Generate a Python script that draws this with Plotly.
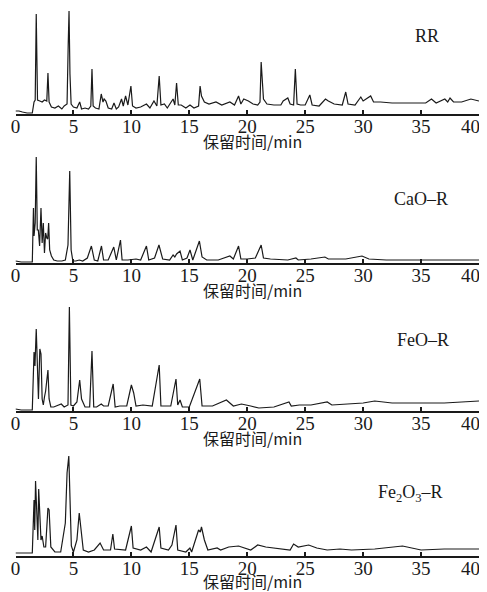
import plotly.graph_objects as go

# ---------------- data (retention time in min, relative signal) ----------------
rr_time = [0, 0.3, 0.6, 1.0, 1.45, 1.6, 1.7, 1.75, 1.79, 1.84, 1.9, 2.1, 2.3, 2.5, 2.7, 2.8, 2.9,
           3.1, 3.4, 3.7, 4.0, 4.2, 4.45, 4.55, 4.62, 4.7, 4.8, 5.0, 5.3, 5.54, 5.7, 6.0, 6.3, 6.5,
           6.6, 6.7, 6.9, 7.2, 7.4, 7.55, 7.65, 7.8, 8.0, 8.3, 8.5, 8.7, 8.9, 9.15, 9.3, 9.5, 9.7,
           9.96, 10.1, 10.4, 10.8, 11.3, 11.6, 11.95, 12.2, 12.4, 12.55, 12.85, 13.1, 13.6, 13.75,
           13.9, 14.05, 14.3, 14.7, 15.06, 15.4, 15.8, 15.93, 16.05, 16.3, 16.7, 17.3, 17.8, 18.5,
           18.9, 19.25, 19.45, 19.7, 20.1, 20.5, 20.9, 21.1, 21.2, 21.3, 21.4, 21.7, 22.3, 22.9,
           23.1, 23.5, 23.7, 24.0, 24.15, 24.3, 24.6, 25.0, 25.4, 25.6, 26.2, 26.75, 27.0, 27.5,
           28.2, 28.5, 28.7, 29.3, 29.8, 30.0, 30.3, 30.65, 30.9, 31.5, 32.5, 33.5, 34.5, 35.4,
           35.9, 36.3, 37.05, 37.3, 37.5, 37.8, 38.5, 39.3, 40]
rr_signal = [3, 3, 2, 1, 1, 12, 14, 67, 100, 60, 14, 13, 12, 14, 13, 41, 12,
             7, 6, 8, 5, 8, 10, 70, 103, 40, 10, 7, 6, 12, 5, 6, 5, 8,
             45, 8, 6, 5, 20, 12, 15, 13, 6, 5, 11, 5, 7, 15, 8, 18, 9,
             28, 8, 6, 7, 10, 6, 13, 8, 38, 9, 10, 6, 15, 9,
             31, 9, 9, 6, 9, 6, 8, 28, 18, 12, 10, 12, 9, 12,
             9, 18, 10, 15, 13, 10, 9, 12, 52, 35, 15, 10, 9, 9,
             13, 16, 10, 9, 45, 10, 9, 9, 19, 9, 8, 15, 13, 10,
             9, 22, 10, 9, 17, 13, 15, 18, 12, 12, 11, 11, 11, 11,
             15, 11, 15, 12, 16, 12, 12, 15, 13]

cao_time = [0, 0.5, 1.0, 1.45, 1.55, 1.6, 1.7, 1.79, 1.88, 1.97, 2.08, 2.2, 2.3, 2.4, 2.5, 2.6,
            2.7, 2.78, 2.86, 2.95, 3.1, 3.3, 3.6, 4.0, 4.3, 4.53, 4.68, 4.8, 4.95, 5.2, 5.5, 5.8,
            6.2, 6.55, 6.8, 7.1, 7.42, 7.6, 8.0, 8.48, 8.7, 9.06, 9.2, 9.7, 10.4, 10.8, 11.3,
            11.5, 12.0, 12.38, 12.7, 13.3, 13.6, 13.75, 13.9, 14.2, 14.4, 14.8, 15.06, 15.3,
            15.87, 16.1, 16.5, 17.5, 18.5, 18.8, 19.25, 19.45, 20.0, 20.7, 21.2, 21.4, 22.0,
            23.5, 24.2, 24.4, 25.5, 26.7, 27.0, 28.5, 29.9, 30.5, 32.0, 34.0, 36.0, 38.0, 40]
cao_signal = [2, 1, 1, 1, 55, 27, 40, 106, 33, 33, 17, 55, 20, 40, 10, 30,
              25, 24, 40, 13, 7, 3, 2, 2, 3, 18, 92, 13, 2, 2, 3, 2,
              5, 17, 3, 2, 17, 3, 3, 16, 3, 23, 3, 3, 4, 3, 17,
              3, 5, 18, 4, 3, 8, 6, 9, 12, 3, 5, 13, 3,
              22, 6, 3, 3, 7, 4, 17, 4, 4, 5, 18, 5, 4,
              3, 5, 3, 4, 6, 4, 4, 7, 4, 3, 3, 3, 3, 3]

feo_time = [0, 0.5, 1.0, 1.45, 1.6, 1.68, 1.79, 1.9, 1.98, 2.1, 2.2, 2.3, 2.4, 2.5, 2.6, 2.8,
            2.9, 3.05, 3.3, 3.95, 4.2, 4.53, 4.65, 4.78, 5.0, 5.3, 5.54, 5.7, 6.0, 6.4, 6.6,
            6.75, 7.0, 7.4, 7.6, 8.0, 8.43, 8.6, 9.0, 9.6, 10.0, 10.2, 10.4, 11.0, 11.8,
            12.4, 12.55, 13.4, 13.85, 14.0, 14.2, 14.4, 15.0, 15.9, 16.1, 17.0, 18.2,
            18.8, 19.5, 20.3, 21.0, 22.3, 23.6, 23.8, 24.5, 25.5, 26.9, 27.3, 28.5, 30.0,
            31.0, 32.5, 34.0, 35.5, 37.0, 38.5, 40]
feo_signal = [2, 1, 1, 1, 59, 45, 82, 42, 12, 62, 57, 12, 6, 14, 20, 41,
              12, 4, 4, 7, 4, 6, 104, 6, 5, 9, 31, 12, 4, 4, 60,
              4, 4, 7, 5, 5, 27, 4, 5, 5, 26, 18, 5, 6, 5,
              46, 5, 5, 32, 6, 11, 4, 4, 32, 5, 5, 11,
              5, 7, 5, 3, 4, 9, 5, 6, 6, 9, 6, 7, 8,
              10, 8, 8, 8, 8, 9, 10]

fe2o3_time = [0, 0.5, 1.0, 1.45, 1.6, 1.66, 1.73, 1.85, 1.93, 2.0, 2.1, 2.2, 2.3, 2.45, 2.6,
              2.8, 2.9, 3.05, 3.4, 3.9, 4.3, 4.45, 4.6, 4.72, 4.82, 5.0, 5.3, 5.5, 5.65, 5.85,
              6.3, 6.8, 7.3, 7.6, 8.2, 8.4, 8.55, 9.5, 10.0, 10.15, 10.8, 11.3, 11.7, 12.4,
              12.55, 13.2, 13.5, 13.85, 14.0, 14.7, 15.05, 15.2, 15.8, 15.95, 16.05, 16.3,
              16.6, 17.4, 17.7, 18.4, 19.25, 20.0, 20.3, 20.9, 21.6, 23.7, 24.0, 24.4, 25.3,
              26.0, 26.9, 28.0, 29.0, 31.0, 33.4, 35.0, 37.0, 40]
fe2o3_signal = [3, 3, 3, 3, 56, 26, 75, 33, 16, 67, 36, 16, 20, 9, 9,
                48, 46, 9, 4, 4, 33, 83, 100, 49, 10, 4, 16, 43, 29, 6,
                4, 6, 13, 6, 6, 22, 7, 6, 30, 8, 6, 9, 4, 29,
                8, 6, 11, 31, 6, 4, 8, 4, 26, 24, 29, 16,
                6, 8, 6, 9, 10, 7, 6, 11, 9, 6, 12, 9, 11,
                8, 6, 7, 6, 7, 10, 6, 7, 7]

series_labels = ["RR", "CaO–R", "FeO–R", "Fe<sub>2</sub>O<sub>3</sub>–R"]
x_ticks = [0, 5, 10, 15, 20, 25, 30, 35, 40]
x_ticktext = ["0", "5", "10", "15", "20", "25", "30", "35", ""]
last_tick_label = "40"
x_title = "保留时间/min"

# ---------------- layout ----------------
OFF = 8                              # page body margin the browser adds
W, H = 487 - OFF, 592 - OFF          # figure fits the window exactly
axis_px = [114, 263, 411, 556]       # pixel row of each x axis line (page coords)
title_gap = [27, 27, 27, 25]         # pixel gap from axis line to axis title centre
panel_h = 106                        # pixel height of each panel
x0_px, x1_px = 15.5, 479.0           # page x of t=0 and t=40
label_pos = [(427, 36), (421, 199), (423, 340), (410, 493)]

def px_x(p):
    return (p - OFF) / W

def px_y(p):
    return 1 - (p - OFF) / H

series = [(rr_time, rr_signal), (cao_time, cao_signal),
          (feo_time, feo_signal), (fe2o3_time, fe2o3_signal)]

fig = go.Figure()
layout = dict(width=W, height=H, margin=dict(l=0, r=0, t=0, b=0, autoexpand=False),
              paper_bgcolor="white", plot_bgcolor="white", showlegend=False,
              annotations=[])

serif = "Liberation Serif, DejaVu Serif, serif"
cjk = "Noto Sans CJK SC"

for i, (t, s) in enumerate(series):
    n = "" if i == 0 else str(i + 1)
    fig.add_trace(go.Scatter(x=t, y=s, mode="lines", xaxis="x" + n, yaxis="y" + n,
                             line=dict(color="#1a1a1a", width=1.2), hoverinfo="skip",
                             cliponaxis=False))
    layout["xaxis" + n] = dict(domain=[px_x(x0_px), px_x(x1_px)], anchor="y" + n,
                               range=[0, 40], tickvals=x_ticks, ticktext=x_ticktext,
                               ticks="inside", ticklen=4, tickwidth=1.5,
                               tickcolor="#1a1a1a", showline=True, linecolor="#1a1a1a",
                               linewidth=2, showgrid=False, zeroline=False, automargin=False,
                               ticklabelstandoff=-6, ticklabeloverflow="allow",
                               tickfont=dict(family=serif, size=19, color="#1a1a1a"))
    layout["yaxis" + n] = dict(domain=[px_y(axis_px[i]), px_y(axis_px[i] - panel_h)],
                               anchor="x" + n, range=[0, panel_h],
                               visible=False, showgrid=False, zeroline=False, automargin=False)
    # last tick label, kept inside the page like in the original
    layout["annotations"].append(dict(
        text=last_tick_label, xref="x" + n, yref="paper", x=x_ticks[-1], xshift=3,
        y=px_y(axis_px[i] + 12), xanchor="right", yanchor="middle", showarrow=False,
        font=dict(family=serif, size=19, color="#1a1a1a")))
    layout["annotations"].append(dict(
        text=x_title, xref="paper", yref="paper", x=px_x(252),
        y=px_y(axis_px[i] + title_gap[i]), xanchor="center", yanchor="middle",
        showarrow=False, font=dict(family=cjk, size=16, color="#1a1a1a")))
    lx, ly = label_pos[i]
    layout["annotations"].append(dict(
        text=series_labels[i], xref="paper", yref="paper", x=px_x(lx), y=px_y(ly),
        xanchor="center", yanchor="middle", showarrow=False,
        font=dict(family=serif, size=18, color="#1a1a1a")))

fig.update_layout(**layout)
fig.write_html("out.html")
